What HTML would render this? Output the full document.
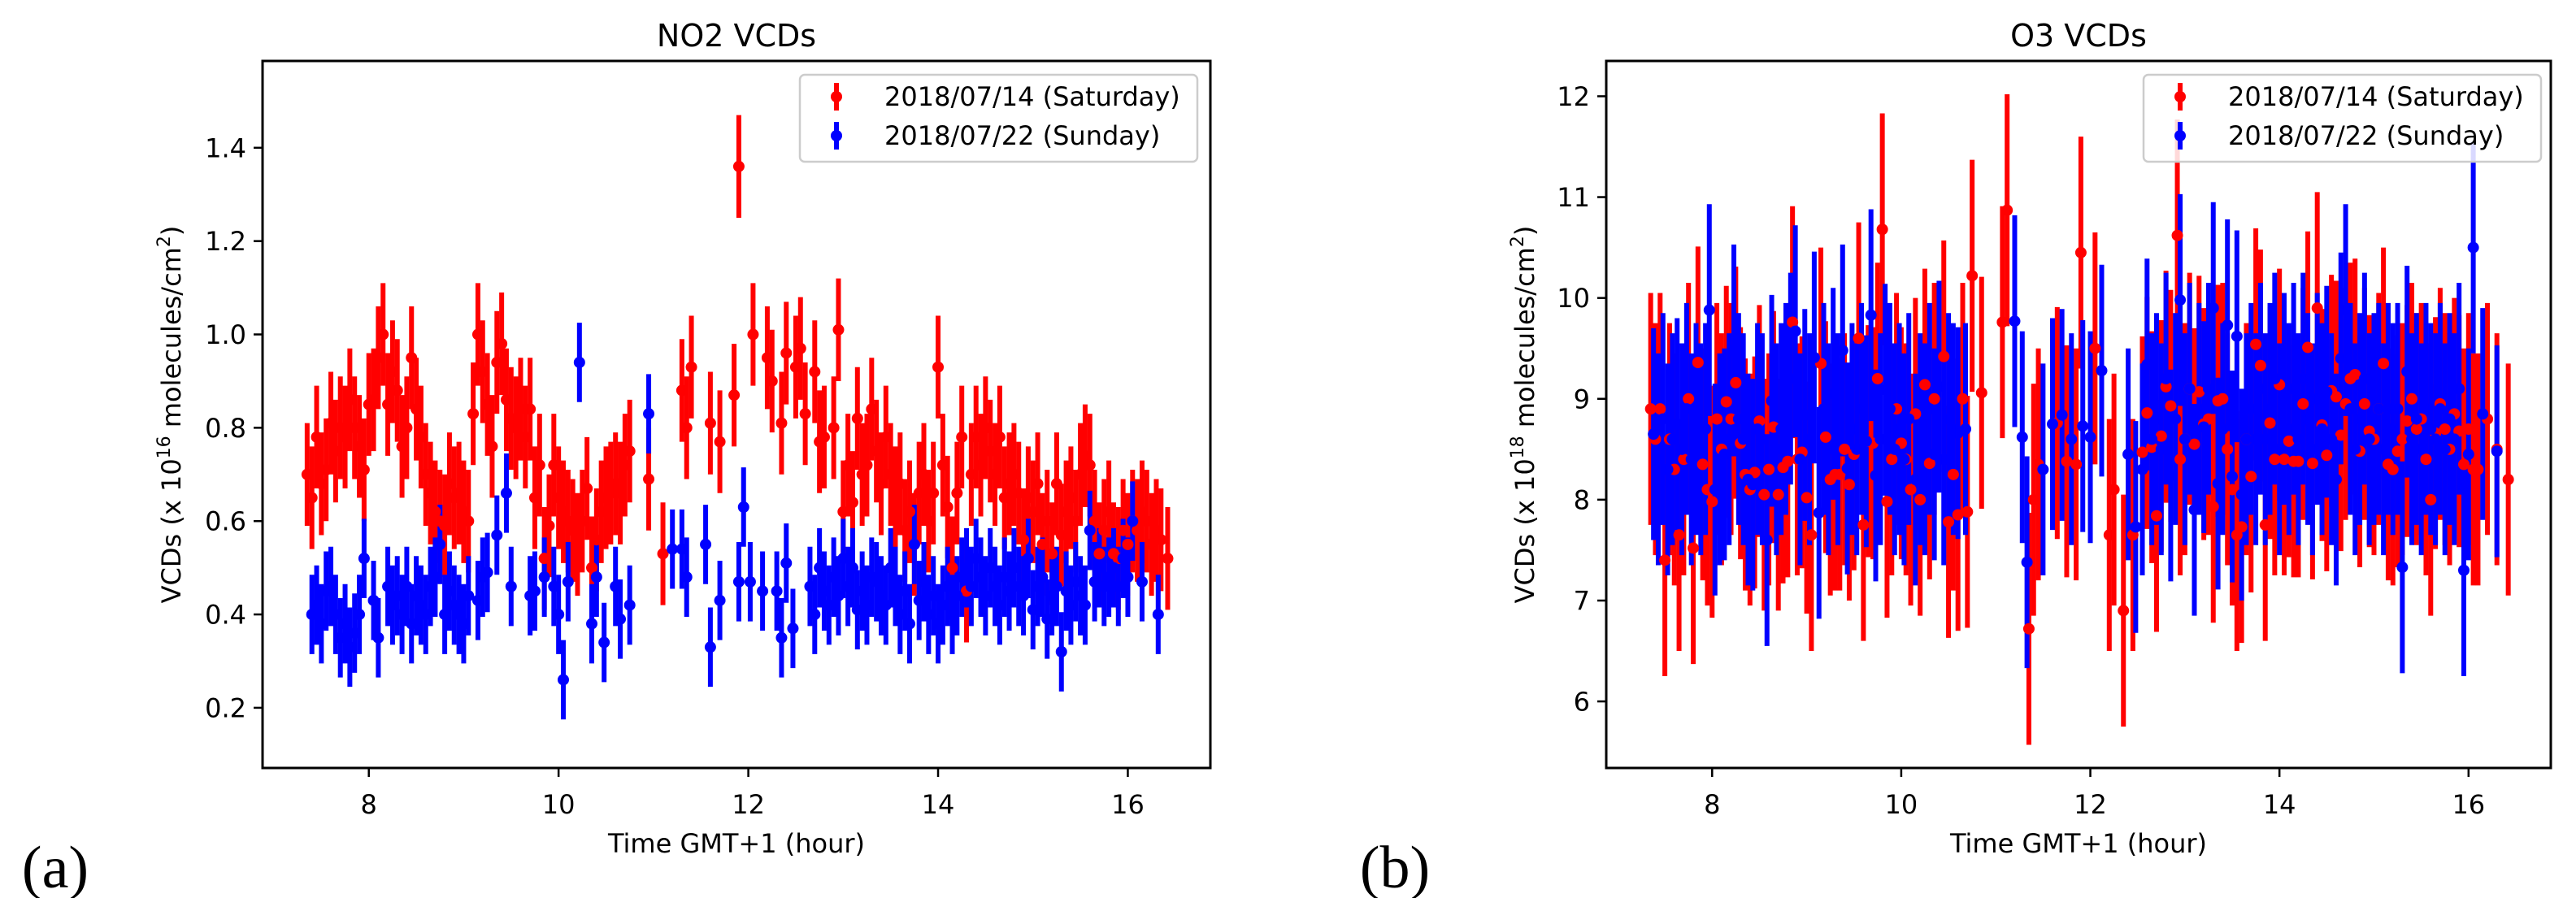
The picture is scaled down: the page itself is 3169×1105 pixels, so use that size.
<!DOCTYPE html>
<html><head><meta charset="utf-8">
<style>
html,body{margin:0;padding:0;background:#fff;}
svg{display:block;font-family:"DejaVu Sans","Liberation Sans",sans-serif;}
</style></head>
<body>
<svg id="fig" width="3169" height="1105" viewBox="0 0 3169 1105" xmlns="http://www.w3.org/2000/svg"></svg>
<script>
const no2Sat=[[7.35,.70],[7.40,.65],[7.45,.78],[7.50,.68],[7.55,.71],[7.60,.81],[7.65,.75],[7.70,.80],[7.75,.78],[7.80,.86],[7.85,.80],[7.90,.76],[7.95,.71],[8.00,.85],[8.05,.86],[8.10,.95],[8.15,1.00],[8.20,.85],[8.25,.92],[8.30,.88],[8.35,.76],[8.40,.80],[8.45,.95],[8.50,.84],[8.55,.78],[8.60,.70],[8.65,.66],[8.70,.62],[8.75,.60],[8.80,.59],[8.85,.68],[8.90,.65],[8.95,.66],[9.00,.62],[9.05,.60],[9.10,.83],[9.15,1.00],[9.20,.92],[9.25,.85],[9.30,.76],[9.35,.94],[9.40,.98],[9.45,.86],[9.50,.82],[9.55,.80],[9.60,.84],[9.65,.78],[9.70,.84],[9.75,.65],[9.80,.72],[9.85,.52],[9.90,.59],[9.95,.72],[10.00,.65],[10.05,.62],[10.10,.60],[10.15,.58],[10.20,.55],[10.25,.60],[10.30,.67],[10.35,.50],[10.40,.56],[10.45,.62],[10.50,.65],[10.55,.66],[10.60,.68],[10.65,.66],[10.70,.72],[10.75,.75],[10.95,.69],[11.10,.53],[11.30,.88],[11.35,.80],[11.40,.93],[11.60,.81],[11.70,.77],[11.85,.87],[11.90,1.36],[12.05,1.00],[12.20,.95],[12.25,.90],[12.35,.81],[12.40,.96],[12.50,.93],[12.55,.97],[12.60,.83],[12.70,.92],[12.75,.77],[12.80,.78],[12.90,.80],[12.95,1.01],[13.00,.62],[13.05,.72],[13.10,.64],[13.15,.82],[13.20,.70],[13.25,.72],[13.30,.84],[13.35,.75],[13.40,.68],[13.45,.78],[13.50,.70],[13.55,.65],[13.60,.68],[13.65,.58],[13.70,.62],[13.75,.55],[13.80,.66],[13.85,.70],[13.90,.60],[13.95,.66],[14.00,.93],[14.05,.72],[14.10,.63],[14.15,.50],[14.20,.66],[14.25,.78],[14.30,.45],[14.35,.70],[14.40,.78],[14.45,.72],[14.50,.80],[14.55,.75],[14.60,.70],[14.65,.78],[14.70,.65],[14.75,.68],[14.80,.70],[14.85,.66],[14.90,.56],[14.95,.65],[15.00,.62],[15.05,.68],[15.10,.55],[15.15,.60],[15.20,.53],[15.25,.68],[15.30,.57],[15.35,.62],[15.40,.65],[15.45,.60],[15.50,.70],[15.55,.74],[15.60,.72],[15.65,.60],[15.70,.53],[15.75,.58],[15.80,.62],[15.85,.53],[15.90,.52],[15.95,.58],[16.00,.55],[16.05,.60],[16.10,.58],[16.15,.62],[16.20,.60],[16.25,.55],[16.30,.58],[16.35,.56],[16.42,.52]];
const no2Sun=[[7.40,.40],[7.45,.42],[7.50,.38],[7.55,.45],[7.60,.46],[7.65,.40],[7.70,.35],[7.75,.38],[7.80,.33],[7.85,.36],[7.90,.40],[7.95,.52],[8.05,.43],[8.10,.35],[8.20,.46],[8.25,.42],[8.30,.44],[8.35,.40],[8.40,.46],[8.45,.38],[8.50,.44],[8.55,.42],[8.60,.40],[8.65,.46],[8.70,.48],[8.75,.55],[8.80,.40],[8.85,.45],[8.90,.42],[8.95,.40],[9.00,.38],[9.05,.44],[9.15,.43],[9.20,.48],[9.25,.49],[9.35,.57],[9.45,.66],[9.50,.46],[9.70,.44],[9.75,.45],[9.85,.48],[9.95,.46],[10.00,.40],[10.05,.26],[10.10,.47],[10.22,.94],[10.35,.38],[10.40,.48],[10.48,.34],[10.60,.46],[10.65,.39],[10.75,.42],[10.95,.83],[11.20,.54],[11.30,.54],[11.35,.48],[11.55,.55],[11.60,.33],[11.70,.43],[11.90,.47],[11.95,.63],[12.02,.47],[12.15,.45],[12.30,.45],[12.35,.35],[12.40,.51],[12.47,.37],[12.65,.46],[12.70,.40],[12.75,.50],[12.80,.45],[12.85,.42],[12.90,.48],[12.95,.44],[13.00,.52],[13.05,.46],[13.10,.50],[13.15,.41],[13.20,.45],[13.25,.42],[13.30,.48],[13.35,.47],[13.40,.44],[13.45,.42],[13.50,.50],[13.55,.46],[13.60,.40],[13.65,.45],[13.70,.38],[13.75,.55],[13.80,.43],[13.85,.47],[13.90,.40],[13.95,.44],[14.00,.38],[14.05,.42],[14.10,.46],[14.15,.40],[14.20,.44],[14.25,.48],[14.30,.50],[14.35,.46],[14.40,.52],[14.45,.48],[14.50,.44],[14.55,.50],[14.60,.46],[14.65,.42],[14.70,.48],[14.75,.45],[14.80,.50],[14.85,.46],[14.90,.44],[14.95,.52],[15.00,.41],[15.05,.46],[15.10,.48],[15.15,.39],[15.20,.44],[15.25,.46],[15.30,.32],[15.35,.45],[15.40,.42],[15.45,.47],[15.50,.44],[15.55,.42],[15.60,.58],[15.65,.47],[15.70,.50],[15.75,.46],[15.80,.48],[15.85,.50],[15.90,.46],[15.95,.52],[16.00,.48],[16.05,.60],[16.15,.47],[16.32,.40]];
const o3Sat=[[7.35,8.9],[7.40,8.6],[7.45,8.9],[7.50,7.4],[7.55,8.6],[7.60,8.3],[7.65,7.65],[7.70,8.4],[7.75,9.0],[7.80,7.52],[7.85,9.36],[7.90,8.35],[7.95,8.1],[8.00,7.98],[8.05,8.8],[8.10,8.5],[8.15,8.97],[8.20,8.8],[8.25,9.16],[8.30,8.56],[8.35,8.25],[8.40,8.1],[8.45,8.27],[8.50,8.78],[8.55,8.05],[8.60,8.3],[8.65,8.72],[8.70,8.05],[8.75,8.32],[8.80,8.38],[8.85,9.76],[8.90,8.4],[8.95,8.47],[9.00,8.02],[9.05,7.65],[9.15,9.35],[9.20,8.62],[9.25,8.2],[9.30,8.25],[9.35,8.25],[9.40,8.5],[9.45,8.15],[9.50,8.45],[9.55,9.6],[9.60,7.75],[9.65,8.58],[9.70,8.56],[9.75,9.2],[9.80,10.68],[9.85,7.98],[9.90,8.4],[9.95,8.9],[10.00,8.56],[10.05,8.4],[10.10,8.1],[10.15,8.85],[10.20,8.0],[10.25,9.14],[10.30,8.36],[10.35,9.0],[10.45,9.42],[10.50,7.78],[10.55,8.25],[10.60,7.85],[10.65,9.0],[10.70,7.88],[10.75,10.22],[10.85,9.06],[11.07,9.76],[11.12,10.87],[11.35,6.72],[11.40,8.0],[11.45,8.35],[11.65,8.76],[11.75,8.38],[11.85,8.35],[11.90,10.45],[12.05,9.5],[12.20,7.65],[12.25,8.1],[12.35,6.9],[12.45,7.65],[12.55,8.47],[12.60,8.86],[12.65,8.52],[12.70,7.84],[12.75,8.63],[12.80,9.12],[12.85,8.93],[12.92,10.62],[12.95,8.4],[13.00,8.6],[13.05,9.1],[13.10,8.55],[13.15,9.07],[13.20,8.75],[13.25,8.8],[13.30,7.93],[13.35,8.98],[13.40,9.0],[13.45,8.5],[13.50,8.1],[13.55,7.65],[13.60,7.73],[13.65,8.6],[13.70,8.23],[13.75,9.54],[13.80,9.33],[13.85,7.75],[13.90,8.76],[13.95,8.4],[14.00,9.14],[14.05,8.4],[14.10,8.58],[14.15,8.38],[14.20,8.38],[14.25,8.95],[14.30,9.51],[14.35,8.36],[14.40,9.9],[14.45,8.74],[14.50,8.44],[14.55,9.08],[14.60,9.02],[14.65,8.64],[14.70,8.95],[14.75,9.2],[14.80,9.24],[14.85,8.48],[14.90,8.95],[14.95,8.68],[15.00,8.6],[15.05,8.9],[15.10,9.35],[15.15,8.35],[15.20,8.3],[15.25,8.48],[15.30,8.6],[15.35,8.78],[15.40,9.0],[15.45,8.7],[15.50,8.8],[15.55,8.4],[15.60,8.0],[15.65,8.66],[15.70,8.95],[15.75,8.7],[15.80,8.5],[15.85,8.85],[15.90,8.68],[15.95,8.35],[16.00,8.7],[16.05,8.3],[16.10,8.3],[16.20,8.8],[16.30,8.5],[16.42,8.2]];
const o3Sun=[[7.38,8.65],[7.43,8.4],[7.48,8.8],[7.53,8.3],[7.58,8.6],[7.63,8.75],[7.68,8.5],[7.73,8.9],[7.78,8.4],[7.83,8.7],[7.88,8.5],[7.93,8.7],[7.97,9.88],[8.03,8.1],[8.08,8.4],[8.13,8.45],[8.18,8.6],[8.23,9.48],[8.28,8.8],[8.33,8.6],[8.38,8.2],[8.43,8.15],[8.48,8.7],[8.53,8.6],[8.58,7.6],[8.63,8.98],[8.68,8.5],[8.73,8.7],[8.78,8.9],[8.83,9.2],[8.88,9.67],[8.93,8.4],[8.98,8.84],[9.03,8.6],[9.08,9.41],[9.13,7.87],[9.18,8.9],[9.23,8.5],[9.28,9.05],[9.33,8.6],[9.38,9.48],[9.43,8.31],[9.48,8.7],[9.53,8.5],[9.58,8.9],[9.63,8.58],[9.68,9.83],[9.73,8.24],[9.78,8.6],[9.83,9.09],[9.88,8.9],[9.93,8.5],[9.98,8.7],[10.03,8.4],[10.08,8.8],[10.15,8.2],[10.20,8.6],[10.25,8.5],[10.30,8.9],[10.35,8.45],[10.40,9.12],[10.45,8.4],[10.50,8.8],[10.55,8.7],[10.60,8.66],[10.68,8.7],[11.20,9.77],[11.28,8.62],[11.33,7.38],[11.50,8.3],[11.60,8.75],[11.70,8.84],[11.80,8.6],[11.92,8.73],[12.00,8.62],[12.12,9.28],[12.40,8.45],[12.48,7.73],[12.55,8.3],[12.60,9.34],[12.65,8.6],[12.70,8.8],[12.75,8.5],[12.80,9.2],[12.85,8.24],[12.90,8.8],[12.95,9.98],[13.00,8.6],[13.05,9.1],[13.10,7.9],[13.15,8.9],[13.20,8.72],[13.25,9.1],[13.30,9.9],[13.35,8.16],[13.40,8.7],[13.45,9.73],[13.50,8.23],[13.55,9.62],[13.60,8.05],[13.65,8.6],[13.70,8.9],[13.75,8.6],[13.80,9.1],[13.85,8.6],[13.90,8.9],[13.95,9.2],[14.00,8.5],[14.05,9.0],[14.10,8.7],[14.15,9.1],[14.20,8.6],[14.25,9.2],[14.30,8.8],[14.35,8.5],[14.40,9.0],[14.45,8.7],[14.50,9.07],[14.55,8.6],[14.60,8.2],[14.65,9.4],[14.70,9.88],[14.75,8.9],[14.80,8.5],[14.85,8.8],[14.90,9.2],[14.95,8.6],[15.00,8.8],[15.05,8.9],[15.10,8.5],[15.15,8.9],[15.20,8.7],[15.25,8.9],[15.30,7.33],[15.35,9.27],[15.40,8.6],[15.45,8.8],[15.50,8.5],[15.55,8.9],[15.60,8.7],[15.65,8.6],[15.70,8.9],[15.75,8.5],[15.80,8.8],[15.85,8.6],[15.90,9.1],[15.95,7.3],[16.00,8.45],[16.05,10.5],[16.15,8.85],[16.30,8.48]];
const errNO2Sat=0.11, errNO2Sun=0.085, errO3Sat=1.15, errO3Sun=1.05;
const xTicks=[8,10,12,14,16];
const yTicksNO2=[0.2,0.4,0.6,0.8,1.0,1.2,1.4];
const yTicksO3=[6,7,8,9,10,11,12];
const legendLabels=["2018/07/14 (Saturday)","2018/07/22 (Sunday)"];

const NS="http://www.w3.org/2000/svg";
const svg=document.getElementById('fig');
function mk(tag,attrs,parent){const e=document.createElementNS(NS,tag);for(const k in attrs)e.setAttribute(k,attrs[k]);(parent||svg).appendChild(e);return e;}

function panel(o){
  const g=mk('g',{});
  
  
  const X=v=>o.L+(v-o.x0)/(o.x1-o.x0)*(o.R-o.L);
  const Y=v=>o.B-(v-o.y0)/(o.y1-o.y0)*(o.B-o.T);
  const bars=mk('g',{},g);
  
  
  const marks=mk('g',{},g);
  
  
  o.series.forEach(s=>{
    s.data.forEach(p=>{
      const l=mk('line',{x1:X(p[0]),x2:X(p[0]),y1:Y(p[1]-s.err),y2:Y(p[1]+s.err),stroke:s.color,'stroke-width':6},bars);
      
      
    });
  });
  o.series.forEach(s=>{
    s.data.forEach(p=>{
      const c=mk('circle',{cx:X(p[0]),cy:Y(p[1]),r:7,fill:s.color},marks);
      
      
    });
  });
  const frame=mk('rect',{x:o.L,y:o.T,width:o.R-o.L,height:o.B-o.T,fill:'none',stroke:'#000','stroke-width':3},g);
  
  
  o.xt.forEach(t=>{
    mk('line',{x1:X(t),x2:X(t),y1:o.B,y2:o.B+11,stroke:'#000','stroke-width':2.5},g);
    const tx=mk('text',{x:X(t),y:1001,'font-size':32,'text-anchor':'middle'},g);
    tx.textContent=t;
    
    
  });
  o.yt.forEach(t=>{
    mk('line',{x1:o.L-11,x2:o.L,y1:Y(t),y2:Y(t),stroke:'#000','stroke-width':2.5},g);
    const tx=mk('text',{x:o.L-20,y:Y(t)+11.5,'font-size':32,'text-anchor':'end'},g);
    tx.textContent=o.fmt(t);
    
    
  });
  const ti=mk('text',{x:(o.L+o.R)/2,y:57,'font-size':38,'text-anchor':'middle'},g);
  ti.textContent=o.title;
  
  
  const xl=mk('text',{x:(o.L+o.R)/2,y:1049,'font-size':32,'text-anchor':'middle'},g);
  xl.textContent='Time GMT+1 (hour)';
  
  
  const yl=mk('text',{x:0,y:0,'font-size':32,'text-anchor':'middle',transform:`translate(${o.ylx},${(o.T+o.B)/2}) rotate(-90)`},g);
  yl.innerHTML=`VCDs (x 10<tspan dy="-13" font-size="22">${o.exp}</tspan><tspan dy="13"> molecules/cm</tspan><tspan dy="-13" font-size="22">2</tspan><tspan dy="13">)</tspan>`;
  
  
  const lg=mk('g',{},g);
  
  
  mk('rect',{x:o.lgx,y:92,width:489,height:107,rx:6,fill:'#fff','fill-opacity':0.85,stroke:'#ccc','stroke-width':2.5},lg);
  o.series.forEach((s,i)=>{
    const cy=119+i*48;
    const e=mk('g',{},lg);
    
    
    mk('line',{x1:o.lgx+45,x2:o.lgx+45,y1:cy-17,y2:cy+17,stroke:s.color,'stroke-width':6},e);
    mk('circle',{cx:o.lgx+45,cy:cy,r:7,fill:s.color},e);
    const t=mk('text',{x:o.lgx+104,y:cy+11,'font-size':32},e);
    t.textContent=legendLabels[i];
  });
  const pl=mk('text',{x:o.plx,y:1092,'font-size':74,'font-family':'"Liberation Serif",serif','text-anchor':'middle'},g);
  pl.textContent=o.panel;
  
  
}

panel({name:'no2-chart',L:323,R:1489,T:75,B:945,x0:6.88,x1:16.87,y0:0.071,y1:1.586,
  xt:xTicks,yt:yTicksNO2,fmt:t=>t.toFixed(1),title:'NO2 VCDs',exp:'16',ylx:222,lgx:984,plx:68,panel:'(a)',
  series:[{key:'saturday',color:'#ff0000',data:no2Sat,err:errNO2Sat},{key:'sunday',color:'#0000ff',data:no2Sun,err:errNO2Sun}]});
panel({name:'o3-chart',L:1976,R:3138,T:75,B:945,x0:6.88,x1:16.87,y0:5.34,y1:12.35,
  xt:xTicks,yt:yTicksO3,fmt:t=>String(t),title:'O3 VCDs',exp:'18',ylx:1887,lgx:2637,plx:1716,panel:'(b)',
  series:[{key:'saturday',color:'#ff0000',data:o3Sat,err:errO3Sat},{key:'sunday',color:'#0000ff',data:o3Sun,err:errO3Sun}]});
</script>
</body></html>
